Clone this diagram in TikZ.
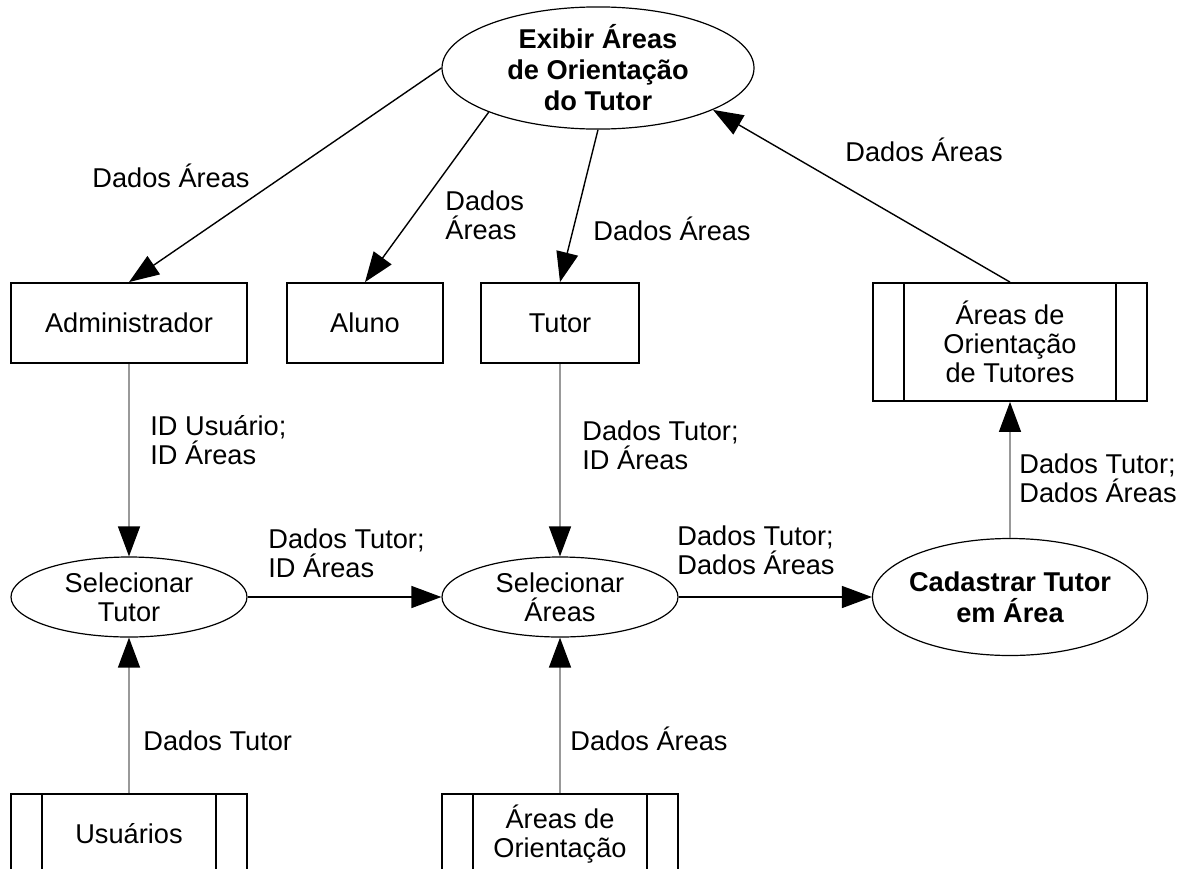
\documentclass[tikz,border=0pt]{standalone}
\usepackage{fontspec}
\setmainfont{Liberation Sans}
\usepackage{tikz}
\usetikzlibrary{arrows.meta, shapes.geometric}

\begin{document}
\begin{tikzpicture}[
  x=0.5pt, y=-0.5pt,
  every node/.style={font=\fontsize{13.6pt}{14.5pt}\selectfont},
  box/.style={rectangle, draw, line width=0.9pt, inner sep=0pt,
              minimum height=40pt, align=center},
  store/.style={box, path picture={
      \draw[line width=0.9pt] ([xshift=15.5pt]path picture bounding box.north west)
        -- ([xshift=15.5pt]path picture bounding box.south west);
      \draw[line width=0.9pt] ([xshift=-15.5pt]path picture bounding box.north east)
        -- ([xshift=-15.5pt]path picture bounding box.south east);}},
  proc/.style={ellipse, draw, line width=0.6pt, inner sep=0pt, align=center},
  bproc/.style={proc, font=\fontsize{13.6pt}{15.5pt}\selectfont\bfseries},
  lbl/.style={inner sep=0pt, align=left},
  flow/.style={-{Triangle[length=15pt, width=11pt]}, line width=0.7pt},
  gflow/.style={-{Triangle[length=15pt, width=11pt, color=black]}, draw=black!40,
                line width=0.7pt}]

  \useasboundingbox (0,0) rectangle (1188,868);
  \clip (0,0) rectangle (1188,868);

  \node[bproc, minimum width=156pt, minimum height=60pt] (EXIB) at (598,68)
    {Exibir Áreas\\de Orientação\\do Tutor};
  \node[box, minimum width=118pt] (ADM) at (129,323) {Administrador};
  \node[box, minimum width=78pt] (ALU) at (365,323) {Aluno};
  \node[box, minimum width=79pt] (TUT) at (560,323) {Tutor};
  \node[store, minimum width=137pt, minimum height=59pt] (AOT) at (1010,342)
    {Áreas de\\Orientação\\de Tutores};
  \node[proc, minimum width=118pt, minimum height=40pt] (SELT) at (129,597) {Selecionar\\Tutor};
  \node[proc, minimum width=118pt, minimum height=40pt] (SELA) at (560,597) {Selecionar\\Áreas};
  \node[bproc, minimum width=137.5pt, minimum height=58.5pt, inner xsep=-3pt] (CAD) at (1010,597)
    {Cadastrar Tutor\\em Área};
  \node[store, minimum width=118pt, anchor=north] (USU) at (129,793) {Usuários};
  \node[store, minimum width=118pt, anchor=north] (AO) at (560,793) {Áreas de\\Orientação};

  \draw[flow] (EXIB.west) -- (ADM.north);
  \draw[flow] (EXIB.202) -- (ALU.north);
  \draw[flow] (EXIB.south) -- (TUT.north);
  \draw[flow] (AOT.north) -- (EXIB.340);
  \draw[gflow] (ADM) -- (SELT);
  \draw[gflow] (TUT) -- (SELA);
  \draw[flow] (SELT) -- (SELA);
  \draw[flow] (SELA) -- (CAD);
  \draw[gflow] (CAD) -- (AOT);
  \draw[gflow] (USU) -- (SELT);
  \draw[gflow] (AO) -- (SELA);

  \node[lbl, anchor=base west] (l1) at (92,187) {Dados Áreas};
  \node[lbl, anchor=north west] (l2) at (445,190) {Dados\\Áreas};
  \node[lbl, anchor=base west] (l3) at (593,240) {Dados Áreas};
  \node[lbl, anchor=base west] (l4) at (845,161) {Dados Áreas};
  \node[lbl, anchor=north west] (l5) at (150,415) {ID Usuário;\\ID Áreas};
  \node[lbl, anchor=north west] (l6) at (582,420) {Dados Tutor;\\ID Áreas};
  \node[lbl, anchor=north west] (l7) at (268,528) {Dados Tutor;\\ID Áreas};
  \node[lbl, anchor=north west] (l8) at (677,525) {Dados Tutor;\\Dados Áreas};
  \node[lbl, anchor=north west] (l9) at (1019,453) {Dados Tutor;\\Dados Áreas};
  \node[lbl, anchor=base west] (l10) at (143,750) {Dados Tutor};
  \node[lbl, anchor=base west] (l11) at (570,750) {Dados Áreas};
\end{tikzpicture}
\end{document}
